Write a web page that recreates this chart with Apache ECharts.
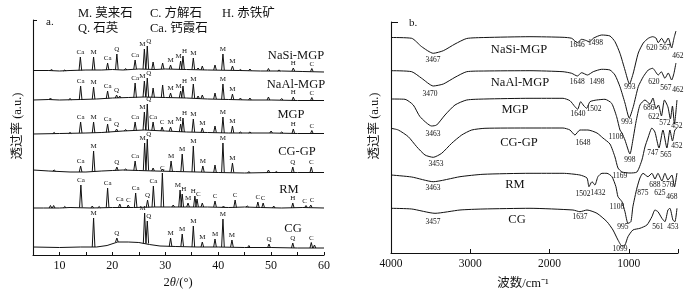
<!DOCTYPE html>
<html>
<head>
<meta charset="utf-8">
<script src="https://cdn.jsdelivr.net/npm/echarts@6/dist/echarts.min.js"></script>
<style>
html, body { margin: 0; padding: 0; background: #fff; }
#chart { width: 700px; height: 297px; }
</style>
</head>
<body>
<div id="chart"></div>
<script>
// ---- (a) XRD: [2theta, level] baselines and [2theta, foot, top, phase] peaks,
// levels relative to each pattern's own zero line
const xrdNames = ['NaSi-MGP', 'NaAl-MGP', 'MGP', 'CG-GP', 'RM', 'CG'];
const xrdOffsets = [184, 155, 121, 84, 47, 8];
const xrdTicks = [10, 20, 30, 40, 50, 60];

const naSiBase = [[5,0.5],[8,0.5],[10,0],[12,0.5],[15,1],[18,1],[20,1.5],[22,1],[25,2],[28,1.5],[30,2],[34,1.5],[38,1],[44,0.5],[48,0],[52,0],[56,-0.5],[60,-1]];
const naSiPeaks = [[8.5,0.5,1.5,''],[11,0,1,''],[13.95,0.5,14,'Ca'],[16.45,1,14,'M'],[19.1,1,8,'Ca'],[20.85,1.5,17,'Q'],[22.5,1,2.5,''],[24.3,2,11,'Ca'],[26.05,2,22,'M'],[26.6,2,25,'Q'],[27.7,1.5,9,''],[29.5,2,8,''],[31.0,2,6,'M'],[32.9,1.5,10,'M'],[33.35,1.5,15,'H'],[35.3,1.5,13,'M'],[36.2,1.5,3,''],[37.0,1,5,''],[39.4,1,6,''],[40.9,1,17,'M'],[42.7,1,5,'M'],[44.2,0.5,1.5,''],[46.0,0.5,2,''],[49.5,0,2.5,''],[51.5,0,1,''],[54.2,0,3,'H'],[57.7,-0.5,2.5,'C']];

const naAlBase = [[5,0],[8,0.5],[10,0],[14,0.5],[17,1],[20,2],[23,2.5],[26,3],[30,2.5],[34,2],[38,1],[42,0.5],[46,0],[50,0],[55,-0.5],[60,-0.5]];
const naAlPeaks = [[8.3,0.5,2,''],[12,0.3,1.5,''],[14.0,0.5,14,'Ca'],[16.45,1,13,'M'],[19.1,1.5,9,'Ca'],[20.8,2,5,'Q'],[21.4,2,4,''],[24.3,2.5,17,'Ca'],[26.05,3,19,'M'],[26.6,3,22,'Q'],[27.7,2.5,12,''],[29.5,2.5,15,''],[31.0,2.5,7,'M'],[32.9,2,9,'M'],[33.35,2,14,'H'],[35.3,2,16,'M'],[36.2,1.5,4,''],[37.0,1.5,5,''],[39.4,1,7,''],[40.9,0.5,16,'M'],[42.7,0.5,6,'M'],[44.2,0.3,2,''],[46.0,0,2,''],[49.5,0,3,''],[52,0,1.5,''],[54.2,-0.5,3,'H'],[57.7,-0.5,2.5,'C']];

const mgpBase = [[5,0],[10,0.5],[15,1],[18,1.5],[22,3],[26,4],[30,3],[34,2],[38,1.5],[42,1],[46,1],[50,1],[55,0.5],[60,0.5]];
const mgpPeaks = [[9,0.5,1.5,''],[12,0.5,1.5,''],[14.0,1,12,'Ca'],[16.45,1,12,'M'],[19.1,1.5,10,'Ca'],[20.8,2.5,5,'Q'],[22.5,3,4.5,''],[24.3,3.5,12,'Ca'],[26.05,4,22,'M'],[26.6,4,30,'Q'],[27.7,3.5,12,'Ca'],[29.4,3,7,'C'],[31.0,3,7,'M'],[32.9,2,10,'M'],[33.35,2,16,'H'],[35.3,2,15,'M'],[37.0,1.5,6,'M'],[39.4,1.5,8,''],[40.9,1,17,'M'],[42.7,1,8,'M'],[44.2,1,2,''],[46.0,1,2,''],[50.0,1,3,''],[52,1,2,''],[54.2,0.5,5,'H'],[57.7,0.5,3.5,'C']];

const cgGpBase = [[5,1],[8,0],[12,-1],[15,-1],[18,0],[20,0.5],[22,1],[25,0.5],[28,0],[32,-0.5],[36,-1],[40,-1.5],[45,-2],[50,-1.5],[55,-1.5],[60,-1.5]];
const cgGpPeaks = [[9,0,1,''],[14.0,-1,5,'Ca'],[16.45,-0.5,20,'M'],[20.85,0.5,4,'Q'],[22.5,1,2,''],[24.3,0.5,10,'Ca'],[26.1,0.5,28,'M'],[26.6,0.5,32,'Q'],[27.7,0,3,''],[29.5,0,2,''],[31.1,-0.5,10,'M'],[33.2,-0.5,17,'M'],[35.3,-1,25,'M'],[37.1,-1,5,'M'],[39.4,-1.5,6,''],[40.9,-1.5,28,'M'],[42.7,-1.5,8,'M'],[45.8,-2,-0.5,''],[49.5,-1.5,1,''],[51,-1.5,-0.5,''],[54.1,-1.5,4,'Q'],[57.6,-1.5,4,'C']];

const rmBase = [[5,0],[7,0],[10,0],[12,0.5],[16,0],[20,0.5],[24,0.5],[28,1],[31,1],[34,1],[38,1],[42,0.5],[45,1],[48,0.5],[52,0],[56,0.5],[60,0]];
const rmPeaks = [[8.3,0,2.5,''],[8.9,0,2.5,''],[11,0.3,1.5,''],[14.05,0.5,23,'Ca'],[16.2,0,2,''],[17.5,0.2,1.5,''],[19.1,0.5,20,'Ca'],[21.4,0.5,4,'Ca'],[23.0,0.5,3,'C'],[24.4,0.5,15,'Ca'],[26.65,0.5,8,'Q'],[27.75,1,22,'Ca'],[29.45,1,35,'C'],[31.5,1,3,''],[32.8,1,18,'M'],[33.2,1,14,'H'],[34.3,1,5,'M'],[35.6,1,12,'H'],[36.0,1,9,'C'],[37.0,1,5,''],[39.4,1,7,'C'],[41,0.5,2,''],[43.2,0.5,8,'C'],[45.5,1,2,''],[47.5,0.5,6,'C'],[48.5,0.5,5,'C'],[50.5,0,2,''],[54.1,0,5,'H'],[56.6,0.5,2.5,'C'],[57.5,0.5,3,'C']];

const cgBase = [[5,0],[10,-0.5],[14,0],[17,0],[19,1.5],[21,5],[23,5],[25,4.5],[27,2.5],[29,1],[32,0.5],[36,0],[40,0],[45,-0.5],[50,-0.5],[55,-1],[60,-1]];
const cgPeaks = [[16.45,0,29,'M'],[20.85,5,9,'Q'],[26.1,3.5,34,'M'],[26.6,3.5,26,'Q'],[31.0,0.5,9,'M'],[33.2,0.5,13,'M'],[35.3,0,21,'M'],[37.0,0,5,'M'],[39.4,0,8,'M'],[40.9,0,28,'M'],[42.6,0,7,'M'],[45.8,-0.5,1.5,''],[49.6,-0.5,3,'Q'],[54.1,-1,4,'Q'],[57.6,-1,4.5,'C'],[58.2,-1,2,'']];

// ---- (b) FTIR: [wavenumber, transmittance] relative to each spectrum's plateau
const irNames = ['NaSi-MGP', 'NaAl-MGP', 'MGP', 'CG-GP', 'RM', 'CG'];
const irOffsets = [215, 182, 155, 124, 80, 45];
const irTicks = [4000, 3000, 2000, 1000];

const naSiIr = [[4000,0.5],[3739,-0.3],[3613,-8.7],[3467,-15.3],[3340,-12.7],[3193,-6],[3045,-0.5],[2815,0.5],[2247,1.3],[1831,0.7],[1721,-0.3],[1650,-4.7],[1595,-1.3],[1532,-2.7],[1499,-4],[1449,-0.3],[1343,3],[1238,2],[1175,-3.7],[1112,-15.3],[1049,-32],[992,-46],[944,-35],[881,-15],[818,-5],[755,-0.3],[700,1.3],[658,0],[629,-4.7],[587,-0.3],[545,-5.3],[503,0],[460,-10],[431,-0.3],[406,7]];
const naAlIr = [[4000,0.3],[3739,-0.7],[3613,-7.3],[3467,-15],[3340,-13],[3193,-6.3],[3045,-0.7],[2815,0],[2247,0.3],[1831,-0.7],[1721,-2.3],[1650,-5],[1595,-1.7],[1522,-4],[1449,-0.7],[1343,1.7],[1238,1],[1175,-4],[1112,-15.7],[1049,-32],[995,-47],[944,-35.7],[881,-15.7],[818,-5.7],[755,1],[700,2.7],[629,-4],[591,-0.7],[545,-7.3],[503,-2],[460,-9],[431,-2.3],[406,8]];
const mgpIr = [[4000,-1],[3823,-1.3],[3719,-7],[3634,-18.7],[3487,-28],[3424,-27],[3319,-17],[3193,-7],[3045,-2],[2815,-1],[2247,-0.3],[1831,-0.3],[1743,-2.7],[1680,-8.7],[1646,-11.3],[1608,-3.7],[1566,-8],[1532,-10.3],[1490,-3.7],[1406,-2],[1301,-1.3],[1217,-5.3],[1154,-18.7],[1112,-32],[1087,-35],[1049,-42],[986,-56],[949,-42],[910,-24],[860,-7],[797,-2],[734,-6],[696,0],[658,-11],[627,-7],[589,-18],[551,-2],[507,-9],[476,-21],[450,-8],[425,-26],[393,-2]];
const cgGpIr = [[4000,0.7],[3908,-1],[3782,-7.7],[3676,-17.7],[3571,-26],[3467,-28.3],[3361,-24.3],[3235,-14.3],[3108,-6],[2982,-1],[2815,0.7],[2247,1],[1831,1],[1743,-1],[1680,-6],[1617,-1],[1516,-1],[1402,-4],[1327,-9],[1238,-15],[1175,-28],[1137,-39],[1087,-43],[986,-44],[898,-43],[835,-31],[797,-18],[759,-9],[709,1],[671,-3],[620,-19],[570,-1],[520,-19],[482,-1],[450,-12],[419,-1],[393,1]];
const rmIr = [[4000,-2],[3739,-4],[3467,-8.7],[3130,-3.7],[2840,-1.3],[2247,-0.3],[1831,-0.3],[1617,-2],[1528,-5],[1503,-13.7],[1465,-8.7],[1428,-12],[1390,-3.7],[1339,-0.3],[1276,-0.3],[1213,-3.7],[1163,-13.7],[1137,-23.7],[1087,-28.7],[1049,-38.7],[1011,-50.3],[974,-48.7],[949,-33.7],[898,-15],[860,-5],[822,-0.3],[759,-3.7],[709,-0.3],[671,-6],[633,-0.3],[583,-8],[545,-0.3],[507,-7],[457,-2],[425,-14],[393,0]];
const cgIr = [[4000,-0.3],[3739,-1],[3445,-5.3],[3130,-2],[2840,-1],[2247,-0.3],[1705,-2],[1617,-3.7],[1528,-2],[1402,-5.3],[1276,-13.7],[1200,-22],[1137,-32],[1087,-38],[1049,-37],[1011,-28.7],[949,-22],[860,-20.3],[772,-17],[709,-8.7],[671,-2],[633,-3.7],[583,-10.3],[545,-13.7],[507,-2],[482,-0.3],[444,-12],[419,-13.7],[393,-0.3]];

// band labels: [wavenumber position, level, text]
const naSiBands = [[3470,-22,'3467'],[1650,-7,'1646'],[1420,-5,'1498'],[709,-10,'620'],[545,-10,'567'],[381,-18,'462'],[986,-49,'993']];
const naAlBands = [[3508,-23,'3470'],[1650,-11,'1648'],[1402,-11,'1498'],[684,-11,'620'],[532,-17,'567'],[381,-19,'462'],[1024,-51,'993']];
const mgpBands = [[3470,-36,'3463'],[1642,-16,'1640'],[1440,-11,'1502'],[747,-10,'686'],[684,-19,'622'],[545,-25,'572'],[394,-28,'452'],[1163,-39,'1108'],[986,-62,'998']];
const cgGpBands = [[3433,-35,'3453'],[1579,-14,'1648'],[1112,-47,'1169'],[696,-24,'747'],[532,-26,'565'],[394,-17,'452']];
const rmBands = [[3470,-15,'3463'],[1579,-21,'1502'],[1390,-20,'1432'],[1150,-34,'1108'],[1074,-54,'995'],[822,-20,'875'],[671,-12,'688'],[507,-12,'576'],[608,-20,'625'],[457,-24,'468']];
const cgBands = [[3470,-14,'3457'],[1617,-9,'1637'],[1112,-41,'1099'],[633,-19,'561'],[444,-19,'453']];

const ink = '#111';
const serif = '"Liberation Serif", "Noto Sans CJK SC", serif';

function baseSeries(pts, off) {
    return {
        type: 'line', xAxisIndex: 0, yAxisIndex: 0, silent: true,
        data: pts.map(p => [p[0], p[1] + off]),
        showSymbol: false,
        lineStyle: { color: ink, width: 1 }
    };
}

function peakSeries(peaks, off) {
    const list = peaks.slice().sort((a, b) => a[0] - b[0]);
    return {
        type: 'custom', xAxisIndex: 0, yAxisIndex: 0, silent: true,
        data: list.map(p => [p[0], p[1] + off, p[2] + off]),
        renderItem: function (params, api) {
            const i = params.dataIndex;
            const x = api.value(0), foot = api.value(1), top = api.value(2);
            const a = api.coord([x - 0.25, foot]);
            const m = api.coord([x, top]);
            const c = api.coord([x + 0.25, foot]);
            const kids = [{
                type: 'polyline',
                shape: { points: [a, m, c] },
                style: { stroke: ink, lineWidth: 1, fill: null }
            }];
            const lab = list[i][3];
            if (lab) {
                let align = 'center', dx = 0;
                const nx = list[i + 1], pv = list[i - 1];
                if (nx && nx[3] && nx[0] - x < 1) { align = 'right'; dx = 1; }
                else if (pv && pv[3] && x - pv[0] < 1) { align = 'left'; dx = -1; }
                kids.push({
                    type: 'text', x: m[0] + dx, y: m[1] - 1,
                    style: { text: lab, fill: ink, font: '7px ' + serif, align: align, verticalAlign: 'bottom' }
                });
            }
            return { type: 'group', children: kids };
        }
    };
}

function irSeries(pts, off) {
    return {
        type: 'line', xAxisIndex: 1, yAxisIndex: 1, silent: true,
        data: pts.map(p => [-p[0], p[1] + off]),
        smooth: 0.2,
        showSymbol: false,
        lineStyle: { color: ink, width: 1 }
    };
}

function bandSeries(labs, off) {
    return {
        type: 'custom', xAxisIndex: 1, yAxisIndex: 1, silent: true,
        data: labs.map(l => [-l[0], l[1] + off]),
        renderItem: function (params, api) {
            const p = api.coord([api.value(0), api.value(1)]);
            return {
                type: 'text', x: p[0], y: p[1],
                style: { text: labs[params.dataIndex][2], fill: ink, font: '7.5px ' + serif, align: 'center', verticalAlign: 'middle' }
            };
        }
    };
}

function txt(x, y, text, size, align, rot) {
    return {
        type: 'text', x: x, y: y, rotation: rot || 0,
        style: { text: text, fill: ink, font: size + 'px ' + serif, align: align || 'center', verticalAlign: 'middle' }
    };
}

const chart = echarts.init(document.getElementById('chart'));

const xrdBases = [naSiBase, naAlBase, mgpBase, cgGpBase, rmBase, cgBase];
const xrdPeakSets = [naSiPeaks, naAlPeaks, mgpPeaks, cgGpPeaks, rmPeaks, cgPeaks];
const irSpectra = [naSiIr, naAlIr, mgpIr, cgGpIr, rmIr, cgIr];
const irBandSets = [naSiBands, naAlBands, mgpBands, cgGpBands, rmBands, cgBands];

const series = [];
xrdBases.forEach((b, i) => {
    series.push(baseSeries(b, xrdOffsets[i]));
    series.push(peakSeries(xrdPeakSets[i], xrdOffsets[i]));
});
irSpectra.forEach((s, i) => {
    series.push(irSeries(s, irOffsets[i]));
    series.push(bandSeries(irBandSets[i], irOffsets[i]));
});

const axisLine = { show: true, lineStyle: { color: '#111', width: 1.1 } };

const option = {
    animation: false,
    backgroundColor: '#fff',
    grid: [
        { left: 33, top: 20, width: 291, height: 235, containLabel: false, outerBoundsMode: 'none' },
        { left: 391, top: 22, width: 287, height: 231, containLabel: false, outerBoundsMode: 'none' }
    ],
    xAxis: [
        {
            type: 'value', gridIndex: 0, min: 5, max: 60, interval: 5,
            axisLine: axisLine,
            axisTick: { inside: true, length: 3, lineStyle: { color: '#111' } },
            splitLine: { show: false },
            axisLabel: {
                color: ink, fontFamily: serif, fontSize: 12, margin: 5,
                formatter: v => (xrdTicks.indexOf(v) >= 0 ? String(v) : '')
            }
        },
        {
            type: 'value', gridIndex: 1, min: -4000, max: -380, interval: 1000,
            axisLine: axisLine,
            axisTick: { inside: true, length: 4, lineStyle: { color: '#111' } },
            splitLine: { show: false },
            axisLabel: {
                color: ink, fontFamily: serif, fontSize: 11.5, margin: 5,
                formatter: v => (irTicks.indexOf(-v) >= 0 ? String(-v) : '')
            }
        }
    ],
    yAxis: [
        {
            type: 'value', gridIndex: 0, min: 0, max: 235, interval: 235,
            axisLine: axisLine,
            axisTick: { inside: true, length: 4, lineStyle: { color: '#111' } },
            axisLabel: { show: false },
            splitLine: { show: false }
        },
        {
            type: 'value', gridIndex: 1, min: 0, max: 231, interval: 231,
            axisLine: axisLine,
            axisTick: { inside: true, length: 7, lineStyle: { color: '#111' } },
            axisLabel: { show: false },
            splitLine: { show: false }
        }
    ],
    graphic: [
        txt(78, 14, 'M. 莫来石', 12.5, 'left'),
        txt(150, 14, 'C. 方解石', 12.5, 'left'),
        txt(222, 14, 'H. 赤铁矿', 12.5, 'left'),
        txt(78, 29, 'Q. 石英', 12.5, 'left'),
        txt(150, 29, 'Ca. 钙霞石', 12.5, 'left'),
        txt(46, 22, 'a.', 11, 'left'),
        txt(409, 23, 'b.', 11, 'left'),
        txt(296, 56, xrdNames[0], 12.5),
        txt(296, 85, xrdNames[1], 12.5),
        txt(291, 115, xrdNames[2], 12.5),
        txt(297, 152, xrdNames[3], 12.5),
        txt(289, 190, xrdNames[4], 12.5),
        txt(293, 229, xrdNames[5], 12.5),
        txt(519, 50, irNames[0], 12.5),
        txt(520, 83, irNames[1], 12.5),
        txt(515, 110, irNames[2], 12.5),
        txt(519, 143, irNames[3], 12.5),
        txt(515, 185, irNames[4], 12.5),
        txt(517, 220, irNames[5], 12.5),
        txt(18, 126, '透过率 (a.u.)', 12.5, 'center', Math.PI / 2),
        txt(375, 126, '透过率 (a.u.)', 12.5, 'center', Math.PI / 2),
        {
            type: 'text', x: 178, y: 283,
            style: {
                text: '2{i|θ}/(°)', fill: ink, font: '12.5px ' + serif, align: 'center', verticalAlign: 'middle',
                rich: { i: { fontStyle: 'italic', fontSize: 12.5, fontFamily: serif } }
            }
        },
        txt(523, 284, '波数/cm⁻¹', 12.5)
    ],
    series: series
};

chart.setOption(option);

window.addEventListener('resize', function () {
    chart.resize();
});
</script>
</body>
</html>
